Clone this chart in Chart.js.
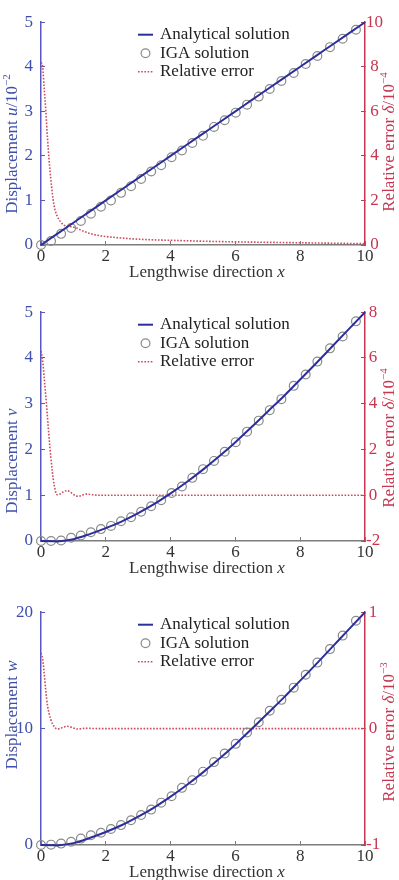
<!DOCTYPE html>
<html>
<head>
<meta charset="utf-8">
<script src="https://cdn.jsdelivr.net/npm/chart.js@4.4.1/dist/chart.umd.min.js"></script>
<style>
  html, body { margin: 0; padding: 0; background: #fff; overflow: hidden; }
  #wrap { position: relative; width: 399px; height: 880px; }
  canvas { position: absolute; left: 0; }
</style>
</head>
<body>
<div id="wrap">
  <canvas id="c1" width="399" height="290" style="top:0"></canvas>
  <canvas id="c2" width="399" height="300" style="top:290px"></canvas>
  <canvas id="c3" width="399" height="300" style="top:590px"></canvas>
</div>
<script>
// x positions shared by all three panels
const curveX = [0, 0.5, 1, 1.5, 2, 2.5, 3, 3.5, 4, 4.5, 5, 5.5, 6, 6.5, 7, 7.5, 8, 8.5, 9, 9.5, 10];
const igaX = [0, 0.31, 0.62, 0.93, 1.23, 1.54, 1.85, 2.16, 2.47, 2.78, 3.09, 3.40, 3.71, 4.03, 4.35,
  4.67, 5.0, 5.34, 5.67, 6.01, 6.36, 6.72, 7.06, 7.42, 7.8, 8.17, 8.53, 8.92, 9.31, 9.72];
const errX = [0, 0.05, 0.1, 0.15, 0.2, 0.3, 0.4, 0.5, 0.6, 0.7, 0.8, 0.9, 1.0, 1.1, 1.2, 1.4, 1.6, 1.8,
  2, 2.5, 3, 3.5, 4, 5, 6, 7, 8, 9, 10];

// panel 1: displacement u (x10^-2), error (x10^-4)
const uExact = [0, 0.25, 0.5, 0.75, 1, 1.25, 1.5, 1.75, 2, 2.25, 2.5, 2.75, 3, 3.25, 3.5, 3.75, 4, 4.25, 4.5, 4.75, 5];
const uIga = [0, 0.09, 0.25, 0.38, 0.54, 0.70, 0.86, 1.0, 1.17, 1.32, 1.48, 1.65, 1.79, 1.97, 2.12,
  2.29, 2.45, 2.65, 2.80, 2.97, 3.15, 3.33, 3.50, 3.68, 3.86, 4.06, 4.24, 4.44, 4.63, 4.83];
const uErr = [8.2, 8.0, 7.0, 6.0, 4.8, 3.0, 1.8, 1.3, 1.05, 0.9, 0.85, 0.83, 0.8, 0.76, 0.69, 0.57, 0.48, 0.42,
  0.38, 0.31, 0.26, 0.23, 0.21, 0.17, 0.14, 0.12, 0.1, 0.08, 0.06];

// panel 2: displacement v, error (x10^-4)
const vExact = [0, -0.01, 0.04, 0.15, 0.28, 0.43, 0.61, 0.81, 1.04, 1.29, 1.56, 1.85, 2.16, 2.49, 2.83, 3.17,
  3.53, 3.89, 4.26, 4.63, 5.0];
const vIga = [0, 0, 0.01, 0.07, 0.12, 0.19, 0.26, 0.33, 0.43, 0.52, 0.64, 0.76, 0.89, 1.05, 1.19,
  1.38, 1.57, 1.75, 1.95, 2.16, 2.39, 2.63, 2.86, 3.10, 3.39, 3.64, 3.92, 4.21, 4.47, 4.80];
const vErr = [6.3, 5.9, 5.1, 4.3, 3.4, 1.7, 0.5, 0.02, 0.06, 0.16, 0.2, 0.14, 0.04, -0.04, -0.03, 0.05, 0.02, 0,
  0, 0, 0, 0, 0, 0, 0, 0, 0, 0, 0];

// panel 3: displacement w, error (x10^-3)
const wExact = [0, -0.04, 0.16, 0.6, 1.12, 1.72, 2.44, 3.24, 4.16, 5.16, 6.24, 7.4, 8.64, 9.96, 11.32, 12.68,
  14.12, 15.56, 17.04, 18.52, 20.0];
const wIga = [0, 0.03, 0.12, 0.28, 0.55, 0.83, 1.05, 1.38, 1.71, 2.13, 2.57, 3.04, 3.64, 4.19, 4.91,
  5.57, 6.3, 7.12, 7.86, 8.69, 9.66, 10.54, 11.53, 12.47, 13.52, 14.63, 15.67, 16.83, 17.99, 19.26];
const wErr = [0.65, 0.6, 0.47, 0.32, 0.2, 0.08, 0.02, -0.003, 0.002, 0.014, 0.02, 0.015, 0.005, -0.003, -0.002,
  0.003, 0.001, 0, 0, 0, 0, 0, 0, 0, 0, 0, 0, 0, 0];

const SERIF = '"Liberation Serif", "Times New Roman", serif';
const BLUE_AXIS = '#5858c4';
const BLUE_TEXT = '#3d4fab';
const RED = '#c7354f';
const GRAY_AXIS = '#7c7c7c';
const DARK = '#333';
const LINE_BLUE = '#2c2e9c';
const CIRCLE_GRAY = '#8a8a8a';
const ERR_RED = '#cc4a5c';

function toPts(xs, ys) {
  return xs.map((x, i) => ({ x: x, y: ys[i] }));
}

// text with italic / superscript pieces, centred on (cx, cy)
function drawRich(ctx, parts, cx, cy, rot, color, size) {
  const fontOf = p => (p.i ? 'italic ' : '') + (p.s ? Math.round(size * 0.62) : size) + 'px ' + SERIF;
  ctx.save();
  ctx.translate(cx, cy);
  ctx.rotate(rot);
  ctx.fillStyle = color;
  ctx.textBaseline = 'middle';
  ctx.textAlign = 'left';
  let w = 0;
  parts.forEach(p => { ctx.font = fontOf(p); w += ctx.measureText(p.t).width; });
  let x = -w / 2;
  parts.forEach(p => {
    ctx.font = fontOf(p);
    ctx.fillText(p.t, x, p.s ? -size * 0.33 : 0);
    x += ctx.measureText(p.t).width;
  });
  ctx.restore();
}

function decoFor(cfg) {
  return {
    id: 'deco',
    afterDraw(chart) {
      const ctx = chart.ctx;
      const a = chart.chartArea;
      drawRich(ctx, [{ t: 'Lengthwise direction ' }, { t: 'x', i: true }], 207, a.bottom + 28, 0, DARK, 17);
      drawRich(ctx, cfg.leftTitle, 12.5, cfg.leftY, -Math.PI / 2, BLUE_TEXT, 17);
      drawRich(ctx, cfg.rightTitle, 390, cfg.rightY, -Math.PI / 2, RED, 17);

      // legend
      const rows = [a.top + 12.5, a.top + 31, a.top + 49.5];
      ctx.save();
      ctx.lineWidth = 2;
      ctx.strokeStyle = LINE_BLUE;
      ctx.beginPath(); ctx.moveTo(138, rows[0]); ctx.lineTo(153, rows[0]); ctx.stroke();
      ctx.lineWidth = 1.2;
      ctx.strokeStyle = CIRCLE_GRAY;
      ctx.beginPath(); ctx.arc(145.5, rows[1], 4.4, 0, Math.PI * 2); ctx.stroke();
      ctx.lineWidth = 1.6;
      ctx.strokeStyle = ERR_RED;
      ctx.setLineDash([1.6, 1.6]);
      ctx.beginPath(); ctx.moveTo(138, rows[2]); ctx.lineTo(153, rows[2]); ctx.stroke();
      ctx.setLineDash([]);
      ctx.fillStyle = '#222';
      ctx.font = '17px ' + SERIF;
      ctx.textBaseline = 'middle';
      ctx.textAlign = 'left';
      ctx.fillText('Analytical solution', 160, rows[0]);
      ctx.fillText('IGA solution', 160, rows[1]);
      ctx.fillText('Relative error', 160, rows[2]);
      ctx.restore();
    }
  };
}

function makePanel(canvasId, cfg) {
  const font = { family: SERIF, size: 17 };
  return new Chart(document.getElementById(canvasId), {
    type: 'line',
    data: {
      datasets: [
        { label: 'Analytical solution', data: toPts(curveX, cfg.exact), yAxisID: 'y',
          borderColor: LINE_BLUE, borderWidth: 2, pointRadius: 0, cubicInterpolationMode: 'monotone', clip: false },
        { label: 'IGA solution', data: toPts(igaX, cfg.iga), yAxisID: 'y', showLine: false,
          pointRadius: 4.4, pointBorderColor: CIRCLE_GRAY, pointBackgroundColor: 'rgba(0,0,0,0)',
          pointBorderWidth: 1.2, clip: false },
        { label: 'Relative error', data: toPts(errX, cfg.err), yAxisID: 'y1',
          borderColor: ERR_RED, borderWidth: 1.6, borderDash: [1.6, 1.6], pointRadius: 0,
          cubicInterpolationMode: 'monotone' }
      ]
    },
    options: {
      responsive: false,
      animation: false,
      events: [],
      layout: { padding: { top: cfg.padTop, left: 0, right: 0, bottom: 0 } },
      plugins: { legend: { display: false }, tooltip: { enabled: false } },
      scales: {
        x: {
          type: 'linear', position: 'bottom', min: 0, max: 10,
          ticks: { stepSize: 2, font: font, color: DARK, padding: 5 },
          grid: { drawOnChartArea: false, tickLength: -4, color: GRAY_AXIS, lineWidth: 1 },
          border: { color: GRAY_AXIS, width: 1.5 },
          afterFit: s => { s.height = cfg.xH; }
        },
        y: {
          position: 'left', min: cfg.yMin, max: cfg.yMax,
          ticks: { stepSize: cfg.yStep, font: font, color: BLUE_TEXT, padding: 12 },
          grid: { drawOnChartArea: false, tickLength: -4, color: BLUE_AXIS, lineWidth: 1 },
          border: { color: BLUE_AXIS, width: 1.5 },
          afterFit: s => { s.width = 41; }
        },
        y1: {
          position: 'right', min: cfg.y1Min, max: cfg.y1Max,
          ticks: { stepSize: cfg.y1Step, font: font, color: RED, padding: 5, crossAlign: 'center' },
          grid: { drawOnChartArea: false, tickLength: -4, color: RED, lineWidth: 1 },
          border: { color: RED, width: 1.5 },
          afterFit: s => { s.width = 34; }
        }
      }
    },
    plugins: [decoFor(cfg)]
  });
}

makePanel('c1', {
  exact: uExact, iga: uIga, err: uErr,
  yMin: 0, yMax: 5, yStep: 1, y1Min: 0, y1Max: 10, y1Step: 2,
  padTop: 12, xH: 45,
  leftTitle: [{ t: 'Displacement ' }, { t: 'u', i: true }, { t: '/10' }, { t: '\u22122', s: true }],
  rightTitle: [{ t: 'Relative error ' }, { t: '\u03b4', i: true }, { t: '/10' }, { t: '\u22124', s: true }],
  leftY: 144, rightY: 142
});

makePanel('c2', {
  exact: vExact, iga: vIga, err: vErr,
  yMin: 0, yMax: 5, yStep: 1, y1Min: -2, y1Max: 8, y1Step: 2,
  padTop: 10, xH: 49,
  leftTitle: [{ t: 'Displacement ' }, { t: 'v', i: true }],
  rightTitle: [{ t: 'Relative error ' }, { t: '\u03b4', i: true }, { t: '/10' }, { t: '\u22124', s: true }],
  leftY: 171, rightY: 148
});

makePanel('c3', {
  exact: wExact, iga: wIga, err: wErr,
  yMin: 0, yMax: 20, yStep: 10, y1Min: -1, y1Max: 1, y1Step: 1,
  padTop: 13, xH: 45,
  leftTitle: [{ t: 'Displacement ' }, { t: 'w', i: true }],
  rightTitle: [{ t: 'Relative error ' }, { t: '\u03b4', i: true }, { t: '/10' }, { t: '\u22123', s: true }],
  leftY: 125, rightY: 142
});
</script>
</body>
</html>
